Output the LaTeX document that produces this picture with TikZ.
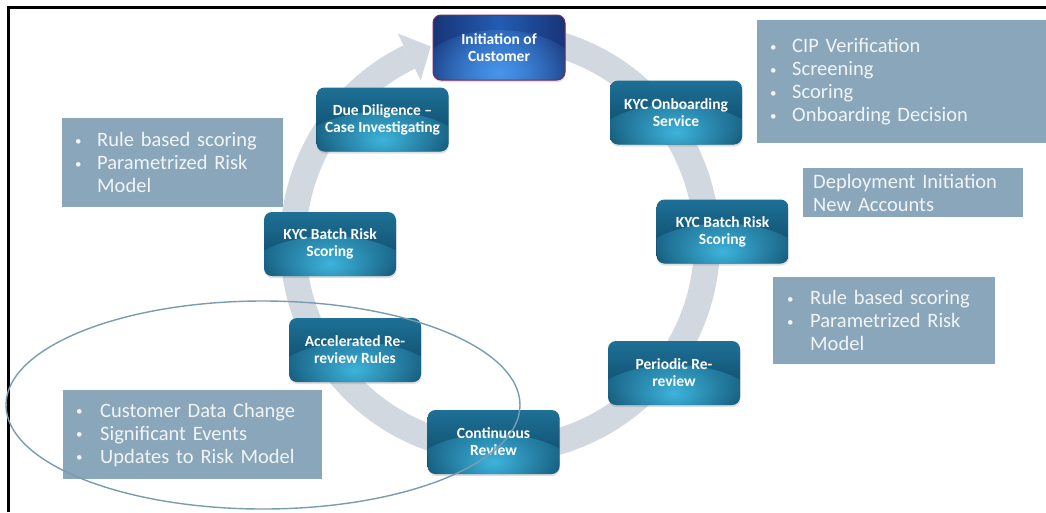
\documentclass[tikz,border=0pt]{standalone}
\usepackage{fontspec}
\setmainfont{Carlito}
\usetikzlibrary{fadings,shadows,calc}
\definecolor{tealtop}{RGB}{30,112,150}
\definecolor{tealbot}{RGB}{11,68,98}
\definecolor{tealglow}{RGB}{62,180,220}
\definecolor{bluetop}{RGB}{36,92,178}
\definecolor{bluebot}{RGB}{20,54,132}
\definecolor{blueedge}{RGB}{24,52,120}
\definecolor{blueglow}{RGB}{72,150,235}
\definecolor{initborder}{RGB}{120,42,96}
\definecolor{greybox}{RGB}{137,166,186}
\definecolor{greytext}{RGB}{242,245,247}
\definecolor{ringc}{RGB}{210,216,223}
\definecolor{ellc}{RGB}{122,156,177}
\tikzfading[name=glowfade, inner color=transparent!0, outer color=transparent!100]
\newcommand{\gbul}[1][22pt]{\makebox[#1][l]{\raisebox{1.5pt}{\fontsize{13}{13}\selectfont\textbullet}}}
\tikzset{
  stage/.style={rounded corners=8pt, minimum width=132pt, minimum height=64pt, inner sep=2pt,
    align=center, text=white, font=\fontsize{15.5}{17}\selectfont\bfseries,
    top color=tealtop, bottom color=tealbot,
    drop shadow={opacity=0.25, shadow xshift=0.5pt, shadow yshift=-2pt},
    path picture={\fill[tealglow, path fading=glowfade] (path picture bounding box.south) ellipse [x radius=85pt, y radius=40pt];}},
  initstage/.style={rounded corners=8pt, minimum width=132pt, minimum height=65pt, inner sep=2pt,
    align=center, text=white, font=\fontsize{15.5}{17}\selectfont\bfseries,
    left color=blueedge, right color=blueedge, middle color=bluetop, draw=initborder, line width=1pt,
    drop shadow={opacity=0.25, shadow xshift=0.5pt, shadow yshift=-2pt},
    path picture={\fill[blueglow, path fading=glowfade] (path picture bounding box.south) ellipse [x radius=85pt, y radius=50pt];}},
  note/.style={fill=greybox, text=greytext, align=left, font=\fontsize{20.5}{23}\selectfont,
    anchor=north west, inner ysep=0pt},
}
\begin{document}
\begin{tikzpicture}[x=1pt,y=-1pt]
\useasboundingbox (0,0) rectangle (1046,512);
\fill[white] (0,0) rectangle (1046,512);
% cycle ring
\coordinate (rc) at (500,243);
\draw[ringc, line width=26pt] ($(rc)+(285:207)$) arc[start angle=285, end angle=604, radius=207];
\fill[ringc] ($(rc)+(244:233)$) -- ($(rc)+(250.6:208.4)$) -- ($(rc)+(244:181)$) -- cycle;
% frame
\draw[line width=3pt, line join=miter] (8.5,512) -- (8.5,7.2) -- (1046,7.2);
% stages
\node[initstage] (init) at (499,47.5) {Initiation of\\Customer};
\node[stage] (onb) at (676,112.5) {KYC Onboarding\\Service};
\node[stage] (due) at (382.5,119.5) {Due Diligence –\\Case Investigating};
\node[stage] (batchr) at (722.5,231.5) {KYC Batch Risk\\Scoring};
\node[stage] (batchl) at (330,244) {KYC Batch Risk\\Scoring};
\node[stage] (accel) at (355,350) {Accelerated Re-\\review Rules};
\node[stage] (periodic) at (674,373) {Periodic Re-\\review};
\node[stage] (cont) at (493.5,442) {Continuous\\Review};
% notes
\node[note, text width=263pt, inner xsep=13pt, minimum height=123pt] (cipnote) at (757,20)
  {\gbul CIP Verification\\\gbul Screening\\\gbul Scoring\\\gbul Onboarding Decision};
\node[note, text width=200pt, inner xsep=10pt, minimum height=49pt] (deploy) at (803,168)
  {Deployment Initiation\\New Accounts};
\node[note, text width=194pt, inner xsep=14pt, minimum height=87pt] (rulesr) at (773,277)
  {\gbul[23pt]Rule based scoring\\\gbul[23pt]Parametrized Risk\\\hspace*{23pt}Model};
\node[note, text width=195pt, inner xsep=13pt, minimum height=89pt] (rulesl) at (62,118)
  {\gbul Rule based scoring\\\gbul Parametrized Risk\\\hspace*{22pt}Model};
\node[note, text width=233pt, inner xsep=13pt, minimum height=89pt] (events) at (63,390)
  {\gbul[24pt]Customer Data Change\\\gbul[24pt]Significant Events\\\gbul[24pt]Updates to Risk Model};
% grouping ellipse
\draw[ellc, line width=1.4pt] (263,405) ellipse [x radius=257, y radius=104];
\end{tikzpicture}
\end{document}
